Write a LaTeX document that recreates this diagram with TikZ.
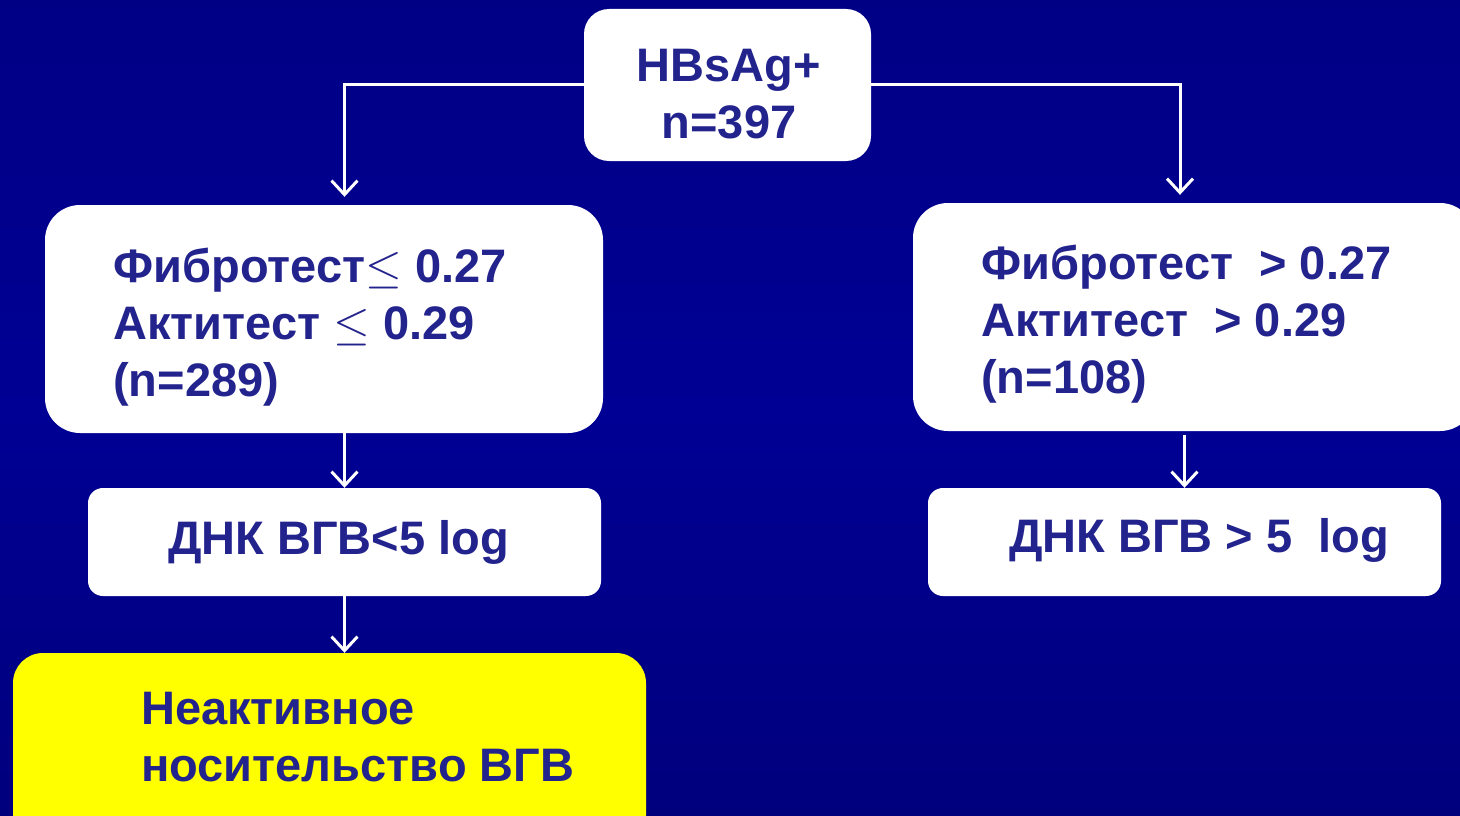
\documentclass[tikz,border=0pt]{standalone}
\usepackage{fontspec}
\setmainfont{Liberation Sans}
\usetikzlibrary{arrows.meta}
\definecolor{bgblue}{RGB}{0,0,148}
\definecolor{bgdark}{RGB}{0,0,125}
\definecolor{txtblue}{RGB}{35,35,142}
\definecolor{boxyellow}{RGB}{255,255,0}
\tikzset{
  box/.style={draw=none, fill=white, rounded corners=#1, inner sep=0pt, anchor=center},
  box/.default=30pt,
  lbl/.style={text=txtblue, font=\fontsize{47}{57}\selectfont\bfseries, inner sep=0pt, align=left, anchor=base west},
  conn/.style={draw=white, line width=3pt, -{Straight Barb[length=14pt,width=26pt,line width=3pt]}}
}
\newcommand{\lesym}{\scalebox{1.9}{$\leq$}}
\begin{document}
\begin{tikzpicture}[x=1pt,y=-1pt]
\useasboundingbox (0,0) rectangle (1460,816);
\clip (0,0) rectangle (1460,816);
\shade[top color=bgblue!90!black, bottom color=bgdark, middle color=bgblue] (0,0) rectangle (1460,816);

% boxes
\node[box=25pt, minimum width=287pt, minimum height=152pt] (top) at (727.5,85) {};
\node[box=35pt, minimum width=558pt, minimum height=228pt] (lmid) at (324,319) {};
\node[box=35pt, minimum width=562pt, minimum height=228pt] (rmid) at (1194,317) {};
\node[box=15pt, minimum width=513pt, minimum height=108pt] (ldna) at (344.5,542) {};
\node[box=15pt, minimum width=513pt, minimum height=108pt] (rdna) at (1184.5,542) {};
\node[box=30pt, fill=boxyellow, minimum width=633pt, minimum height=192pt] (yel) at (329.5,749) {};

% texts (base anchor = baseline of the last line)
\node[lbl, align=center, anchor=base] (ttop) at (729,138) {HBsAg+\\n=397};
\node[lbl] (tlmid) at (113,396) {Фибротест\lesym{} 0.27\\Актитест \lesym{} 0.29\\(n=289)};
\node[lbl] (trmid) at (981,393) {Фибротест\ \ > 0.27\\Актитест\ \ > 0.29\\(n=108)};
\node[lbl] (tldna) at (168,554) {ДНК ВГВ<5 log};
\node[lbl] (trdna) at (1009,552) {ДНК ВГВ > 5\ \ log};
\node[lbl] (tyel) at (141,781) {Неактивное\\носительство ВГВ};

% connectors
\coordinate (rturn) at (1180,85);
\draw[conn, shorten >=8pt] (top.west) -| (lmid.north -| ldna.north);
\draw[conn, shorten >=8pt] (top.east) -- (rturn) -- (rturn |- rmid.north);
\draw[conn] (ldna.north |- lmid.south) -- (ldna.north);
\draw[conn, shorten <=4pt] (rdna.north |- rmid.south) -- (rdna.north);
\draw[conn] (ldna.south) -- (ldna.south |- yel.north);
\end{tikzpicture}
\end{document}
